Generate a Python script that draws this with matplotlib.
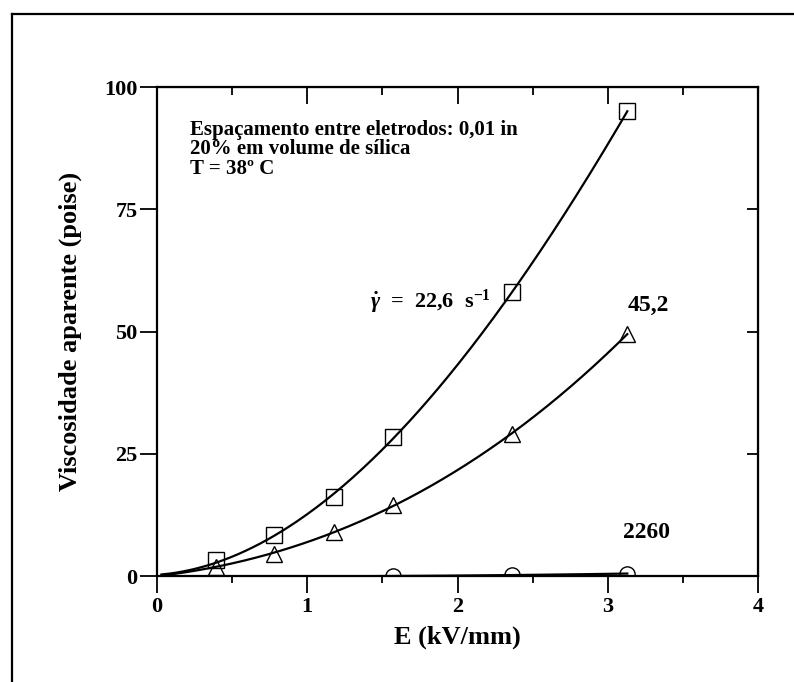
import numpy as np
import matplotlib.pyplot as plt
from matplotlib.lines import Line2D
from matplotlib.ticker import MultipleLocator

plt.rcParams['font.family'] = ['Liberation Serif', 'DejaVu Serif']
plt.rcParams['font.weight'] = 'bold'
plt.rcParams['mathtext.fontset'] = 'custom'
plt.rcParams['mathtext.rm'] = 'Liberation Serif:bold'
plt.rcParams['mathtext.it'] = 'Liberation Serif:italic:bold'
plt.rcParams['mathtext.bf'] = 'Liberation Serif:bold'

# campo elétrico (kV/mm) e viscosidade aparente (poise)
E_sq = [0.39, 0.78, 1.18, 1.57, 2.36, 3.13]
visc_226 = [3.2, 8.3, 16.2, 28.4, 58.0, 95.0]
E_tri = [0.39, 0.78, 1.18, 1.57, 2.36, 3.13]
visc_452 = [1.9, 4.6, 9.0, 14.5, 29.0, 49.5]
E_circ = [1.57, 2.36, 3.13]
visc_2260 = [0.0, 0.2, 0.5]

rate_labels = ["45,2", "2260"]
info_lines = ["Espaçamento entre eletrodos: 0,01 in",
              "20% em volume de sílica",
              "T = 38º C"]


def fit_curve(x, y, deg):
    # curva de ajuste passando pela origem
    xs = np.concatenate([[0.0], x])
    ys = np.concatenate([[0.0], y])
    p = np.polyfit(xs, ys, deg)
    xx = np.linspace(0.03, max(x), 200)
    return xx, np.polyval(p, xx)


fig = plt.figure(figsize=(7.94, 6.82), dpi=100)
ax = fig.add_axes([0.1977, 0.1554, 0.757, 0.717])

for x, y, m, ms in [(E_sq, visc_226, 's', 12), (E_tri, visc_452, '^', 11),
                    (E_circ, visc_2260, 'o', 11)]:
    xx, yy = fit_curve(np.array(x), np.array(y), 3 if m != 'o' else 2)
    ax.plot(xx, yy, color='black', lw=1.6)
    ax.plot(x, y, m, ms=ms, mfc='none', mec='black', mew=1.0)

ax.set_xlim(0, 4)
ax.set_ylim(0, 100)
ax.xaxis.set_major_locator(MultipleLocator(1))
ax.xaxis.set_minor_locator(MultipleLocator(0.5))
ax.yaxis.set_major_locator(MultipleLocator(25))
ax.yaxis.set_minor_locator(plt.NullLocator())

ax.tick_params(axis='x', which='both', direction='out', top=False, width=1.3)
ax.tick_params(axis='x', which='major', length=12, labelsize=16, pad=3)
ax.tick_params(axis='x', which='minor', length=5)
ax.tick_params(axis='y', which='major', direction='out', length=12, width=1.3,
               labelsize=16, pad=2)
for s in ax.spines.values():
    s.set_linewidth(1.6)

# ticks internos no topo e à direita
secx = ax.secondary_xaxis('top')
secx.xaxis.set_major_locator(MultipleLocator(1))
secx.xaxis.set_minor_locator(MultipleLocator(0.5))
secx.tick_params(which='major', direction='in', length=12, width=1.3, labeltop=False)
secx.tick_params(which='minor', direction='in', length=6, width=1.3)
secy = ax.secondary_yaxis('right')
secy.yaxis.set_major_locator(MultipleLocator(25))
secy.tick_params(direction='in', length=8, width=1.3, labelright=False)

ax.set_xlabel("E (kV/mm)", fontsize=19, fontweight='bold', labelpad=6)
ax.set_ylabel("Viscosidade aparente (poise)", fontsize=19, fontweight='bold',
              labelpad=16)

for i, line in enumerate(info_lines):
    ax.text(0.22, 91.3 - 4.0 * i, line, fontsize=15, fontweight='bold',
            va='center', ha='left')

ax.text(1.42, 56, r"$\dot{\gamma}$  =  22,6  s$^{\mathregular{-1}}$",
        fontsize=16, fontweight='bold', va='center', ha='left')
ax.text(3.27, 55.4, rate_labels[0], fontsize=17, fontweight='bold',
        va='center', ha='center')
ax.text(3.26, 8.8, rate_labels[1], fontsize=17, fontweight='bold',
        va='center', ha='center')

# moldura da figura digitalizada
fig.add_artist(Line2D([12 / 794, 12 / 794], [0, 1 - 14 / 682],
                      transform=fig.transFigure, color='black', lw=1.6))
fig.add_artist(Line2D([12 / 794, 1], [1 - 14 / 682, 1 - 14 / 682],
                      transform=fig.transFigure, color='black', lw=1.6))

fig.savefig("out.png", dpi=100)
